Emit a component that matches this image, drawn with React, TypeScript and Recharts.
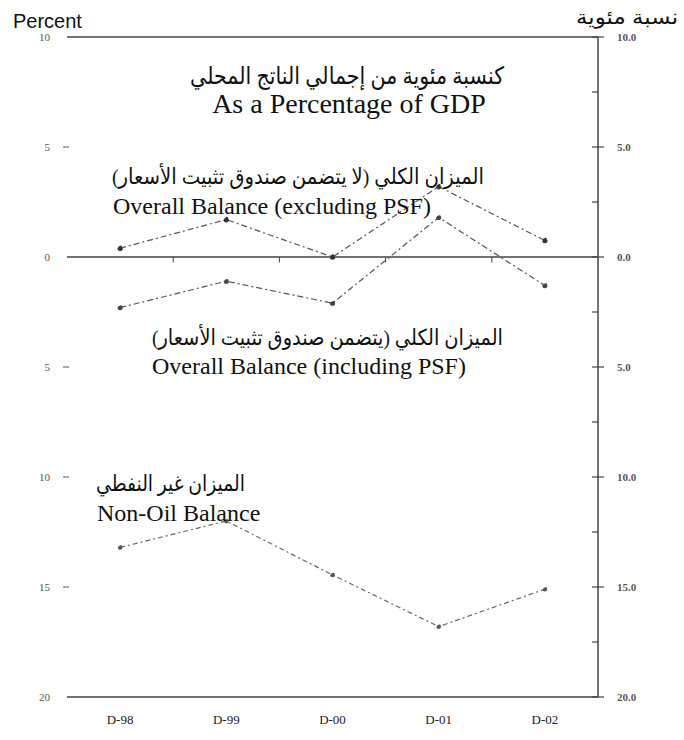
import React from 'react';
import { LineChart, Line, XAxis, YAxis, ReferenceLine } from 'recharts';

// ─── Data ─────────────────────────────────────────────────────────────────────

const categories = ['D-98', 'D-99', 'D-00', 'D-01', 'D-02'];
const overallExclPsf = [0.4, 1.7, 0.0, 3.2, 0.75];
const overallInclPsf = [-2.3, -1.1, -2.1, 1.8, -1.3];
const nonOilBalance = [-13.2, -12.0, -14.45, -16.8, -15.1];

const leftTicks = [10, 5, 0, -5, -10, -15, -20];
const rightTicks = [10, 7.5, 5, 2.5, 0, -2.5, -5, -7.5, -10, -12.5, -15, -17.5, -20];
const bandEdges = [1, 2, 3, 4];

const data = categories.map((c, i) => ({
    x: i + 0.5,
    label: c,
    excl: overallExclPsf[i],
    incl: overallInclPsf[i],
    nonOil: nonOilBalance[i],
}));

const SERIF = "'Liberation Serif', 'DejaVu Sans', serif";
const SANS = "'Liberation Sans', 'DejaVu Sans', sans-serif";
const AXIS = '#444';

// ─── Ticks ────────────────────────────────────────────────────────────────────

const LeftTick = (props: any) => {
    const { x, y, payload } = props;
    const v = payload.value as number;
    const hasDash = v !== 10 && v !== 0 && v !== -20;
    return (
        <g>
            <text x={x - 17} y={y} dy={4} textAnchor="end" fontSize={11} fontFamily={SERIF} fill="#555">
                {Math.abs(v)}
            </text>
            {hasDash && <line x1={x - 4} x2={x + 2} y1={y} y2={y} stroke="#555" strokeWidth={1} />}
        </g>
    );
};

const RightTick = (props: any) => {
    const { x, y, payload } = props;
    const v = payload.value as number;
    const major = v % 5 === 0;
    return (
        <g>
            <line x1={x - 6} x2={major ? x + 6 : x} y1={y} y2={y} stroke={AXIS} strokeWidth={1.2} />
            {major && (
                <text x={x + 19} y={y} dy={4} textAnchor="start" fontSize={11} fontWeight="bold" fontFamily={SERIF} fill="#555">
                    {Math.abs(v).toFixed(1)}
                </text>
            )}
        </g>
    );
};

const XTick = (props: any) => {
    const { x, y, payload } = props;
    const idx = Math.floor(payload.value);
    return (
        <text x={x} y={y + 27} textAnchor="middle" fontSize={13} fontFamily={SERIF} fill="#222">
            {categories[idx]}
        </text>
    );
};

// ─── Annotations ──────────────────────────────────────────────────────────────

const Annotations: React.FC = () => (
    <svg width={684} height={740} style={{ position: 'absolute', left: 0, top: 0, pointerEvents: 'none' }}>
        <text x={13} y={28} fontSize={20} fontFamily={SANS} fill="#111">Percent</text>
        <text x={678} y={24} fontSize={20} fontFamily={SANS} fill="#111" direction="rtl" textAnchor="start"
            textLength={102} lengthAdjust="spacingAndGlyphs">
            نسبة مئوية
        </text>

        <text x={347} y={84} fontSize={24} fontFamily={SERIF} fill="#111" direction="rtl" textAnchor="middle"
            textLength={314} lengthAdjust="spacingAndGlyphs">
            كنسبة مئوية من إجمالي الناتج المحلي
        </text>
        <text x={349} y={113} fontSize={28} fontFamily={SERIF} fill="#111" textAnchor="middle">
            As a Percentage of GDP
        </text>

        <text x={484} y={184} fontSize={22} fontFamily={SERIF} fill="#111" direction="rtl" textAnchor="start"
            textLength={372} lengthAdjust="spacingAndGlyphs">
            الميزان الكلي (لا يتضمن صندوق تثبيت الأسعار)
        </text>
        <text x={113} y={214} fontSize={24} fontFamily={SERIF} fill="#111">
            Overall Balance (excluding PSF)
        </text>

        <text x={503} y={345} fontSize={22} fontFamily={SERIF} fill="#111" direction="rtl" textAnchor="start"
            textLength={351} lengthAdjust="spacingAndGlyphs">
            الميزان الكلي (يتضمن صندوق تثبيت الأسعار)
        </text>
        <text x={152} y={374} fontSize={24} fontFamily={SERIF} fill="#111">
            Overall Balance (including PSF)
        </text>

        <text x={245} y={491} fontSize={22} fontFamily={SERIF} fill="#111" direction="rtl" textAnchor="start"
            textLength={149} lengthAdjust="spacingAndGlyphs">
            الميزان غير النفطي
        </text>
        <text x={97} y={521} fontSize={24} fontFamily={SERIF} fill="#111">
            Non-Oil Balance
        </text>
    </svg>
);

// ─── Chart ────────────────────────────────────────────────────────────────────

export default function App() {
    return (
        <div style={{ position: 'absolute', left: 0, top: 0, width: 684, height: 740, background: '#fff' }}>
            <LineChart width={684} height={740} data={data} margin={{ top: 37, right: 0, bottom: 0, left: 0 }}>
                <XAxis
                    type="number"
                    dataKey="x"
                    domain={[0, 5]}
                    ticks={[0.5, 1.5, 2.5, 3.5, 4.5]}
                    axisLine={false}
                    tickLine={false}
                    tickSize={0}
                    tickMargin={0}
                    height={43}
                    tick={<XTick />}
                />
                <YAxis
                    yAxisId="left"
                    domain={[-20, 10]}
                    ticks={leftTicks}
                    interval={0}
                    axisLine={false}
                    tickLine={false}
                    tickSize={0}
                    tickMargin={0}
                    width={67}
                    tick={<LeftTick />}
                />
                <YAxis
                    yAxisId="right"
                    orientation="right"
                    domain={[-20, 10]}
                    ticks={rightTicks}
                    interval={0}
                    axisLine={{ stroke: AXIS, strokeWidth: 1.5 }}
                    tickLine={false}
                    tickSize={0}
                    tickMargin={0}
                    width={86}
                    tick={<RightTick />}
                />

                <ReferenceLine yAxisId="left" y={10} stroke={AXIS} strokeWidth={1.5} />
                <ReferenceLine yAxisId="left" y={0} stroke={AXIS} strokeWidth={1.5} />
                <ReferenceLine yAxisId="left" y={-20} stroke={AXIS} strokeWidth={1.5} />
                {bandEdges.map((b) => (
                    <ReferenceLine
                        key={b}
                        yAxisId="left"
                        segment={[{ x: b, y: 0 }, { x: b, y: -0.25 }]}
                        stroke={AXIS}
                        strokeWidth={1}
                    />
                ))}

                {/* invisible series so the right-hand axis gets its ticks */}
                <Line
                    yAxisId="right"
                    dataKey="excl"
                    stroke="none"
                    dot={false}
                    activeDot={false}
                    legendType="none"
                    isAnimationActive={false}
                />

                <Line
                    yAxisId="left"
                    type="linear"
                    dataKey="excl"
                    stroke="#555"
                    strokeWidth={1.2}
                    strokeDasharray="6 3 2 3"
                    dot={{ r: 2.2, fill: '#333', stroke: '#333' }}
                    isAnimationActive={false}
                />
                <Line
                    yAxisId="left"
                    type="linear"
                    dataKey="incl"
                    stroke="#555"
                    strokeWidth={1.2}
                    strokeDasharray="6 3 2 3"
                    dot={{ r: 2, fill: '#444', stroke: '#444' }}
                    isAnimationActive={false}
                />
                <Line
                    yAxisId="left"
                    type="linear"
                    dataKey="nonOil"
                    stroke="#666"
                    strokeWidth={1.2}
                    strokeDasharray="5 3 2 3"
                    dot={{ r: 1.8, fill: '#555', stroke: '#555' }}
                    isAnimationActive={false}
                />
            </LineChart>
            <Annotations />
        </div>
    );
}
